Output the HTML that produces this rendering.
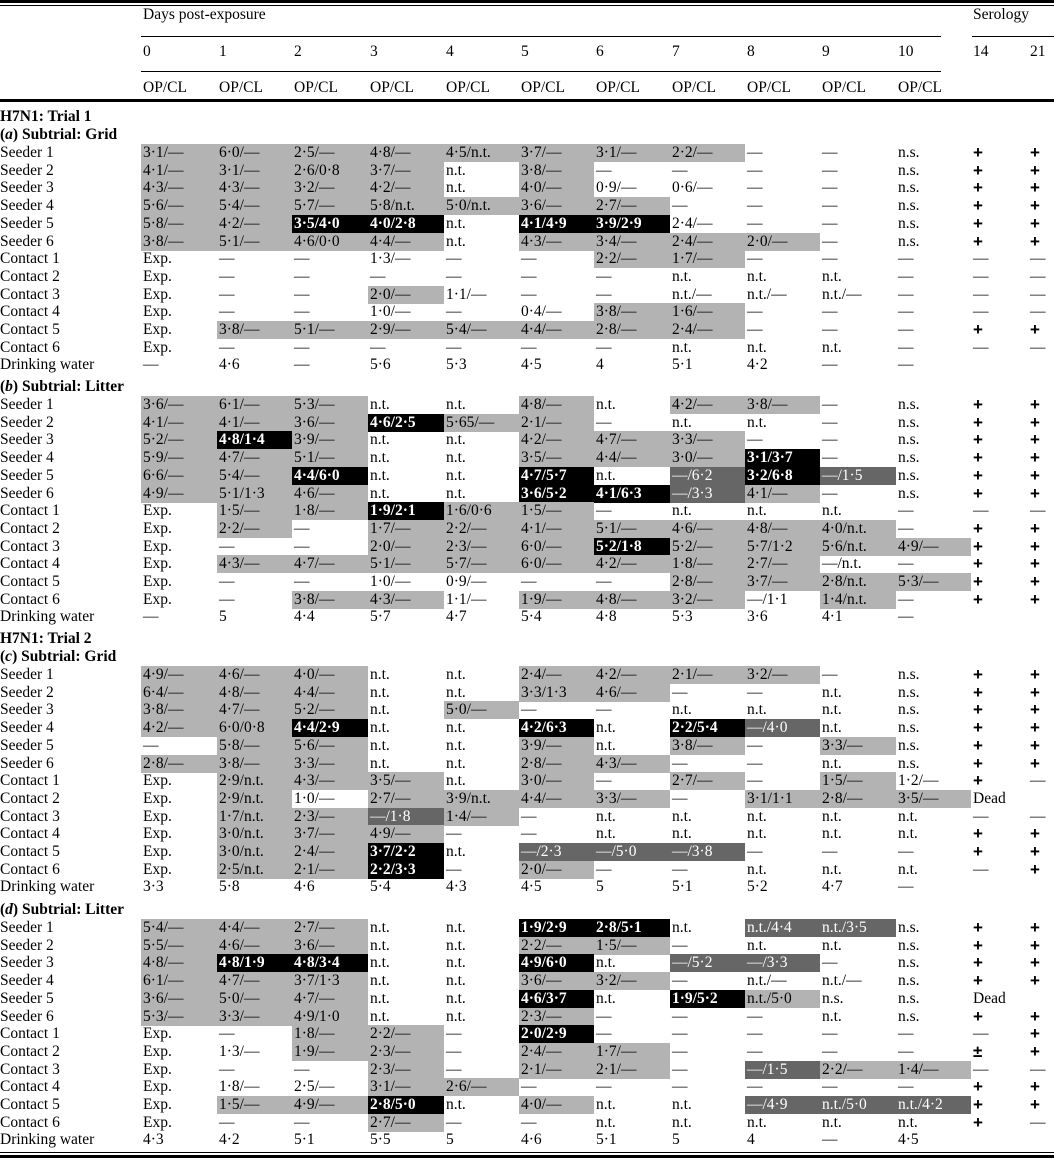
<!DOCTYPE html>
<html><head><meta charset="utf-8">
<style>
body{margin:0;width:1054px;height:1160px;background:#fff;position:relative;overflow:hidden;font-family:"Liberation Serif",serif;font-size:15.5px;color:#000}
.t{position:absolute;white-space:nowrap;line-height:18px;height:18px}
.bx{position:absolute;height:18px}
.ln{position:absolute;background:#000}
.b{font-weight:bold}
.pl{font-weight:bold;font-size:17px;font-family:"Liberation Sans",sans-serif}
</style></head><body>
<div id="root"></div>
<script>
const cols=[143,219,294,370,446,521,596,672,747,822,898,973,1030];
const dayLabels=["0","1","2","3","4","5","6","7","8","9","10"];
const serLabels=["14","21"];
const secA=[
["Seeder 1","g3·1/–|g6·0/–|g2·5/–|g4·8/–|g4·5/n.t.|g3·7/–|g3·1/–|g2·2/–|–|–|n.s.|+|+"],
["Seeder 2","g4·1/–|g3·1/–|g2·6/0·8|g3·7/–|n.t.|g3·8/–|–|–|–|–|n.s.|+|+"],
["Seeder 3","g4·3/–|g4·3/–|g3·2/–|g4·2/–|n.t.|g4·0/–|0·9/–|0·6/–|–|–|n.s.|+|+"],
["Seeder 4","g5·6/–|g5·4/–|g5·7/–|g5·8/n.t.|g5·0/n.t.|g3·6/–|g2·7/–|–|–|–|n.s.|+|+"],
["Seeder 5","g5·8/–|g4·2/–|k3·5/4·0|k4·0/2·8|n.t.|k4·1/4·9|k3·9/2·9|2·4/–|–|–|n.s.|+|+"],
["Seeder 6","g3·8/–|g5·1/–|g4·6/0·0|g4·4/–|n.t.|g4·3/–|g3·4/–|g2·4/–|g2·0/–|–|n.s.|+|+"],
["Contact 1","Exp.|–|–|1·3/–|–|–|g2·2/–|g1·7/–|–|–|–|–|–"],
["Contact 2","Exp.|–|–|–|–|–|–|n.t.|n.t.|n.t.|–|–|–"],
["Contact 3","Exp.|–|–|g2·0/–|1·1/–|–|–|n.t./–|n.t./–|n.t./–|–|–|–"],
["Contact 4","Exp.|–|–|1·0/–|–|0·4/–|g3·8/–|g1·6/–|–|–|–|–|–"],
["Contact 5","Exp.|g3·8/–|g5·1/–|g2·9/–|g5·4/–|g4·4/–|g2·8/–|g2·4/–|–|–|–|+|+"],
["Contact 6","Exp.|–|–|–|–|–|–|n.t.|n.t.|n.t.|–|–|–"],
["Drinking water","–|4·6|–|5·6|5·3|4·5|4|5·1|4·2|–|–||"]];
const secB=[
["Seeder 1","g3·6/–|g6·1/–|g5·3/–|n.t.|n.t.|g4·8/–|n.t.|g4·2/–|g3·8/–|–|n.s.|+|+"],
["Seeder 2","g4·1/–|g4·1/–|g3·6/–|k4·6/2·5|g5·65/–|g2·1/–|–|n.t.|n.t.|–|n.s.|+|+"],
["Seeder 3","g5·2/–|k4·8/1·4|g3·9/–|n.t.|n.t.|g4·2/–|g4·7/–|g3·3/–|–|–|n.s.|+|+"],
["Seeder 4","g5·9/–|g4·7/–|g5·1/–|n.t.|n.t.|g3·5/–|g4·4/–|g3·0/–|k3·1/3·7|–|n.s.|+|+"],
["Seeder 5","g6·6/–|g5·4/–|k4·4/6·0|n.t.|n.t.|k4·7/5·7|n.t.|d–/6·2|k3·2/6·8|d–/1·5|n.s.|+|+"],
["Seeder 6","g4·9/–|g5·1/1·3|g4·6/–|n.t.|n.t.|k3·6/5·2|k4·1/6·3|d–/3·3|g4·1/–|–|n.s.|+|+"],
["Contact 1","Exp.|g1·5/–|g1·8/–|k1·9/2·1|g1·6/0·6|g1·5/–|–|n.t.|n.t.|n.t.|–|–|–"],
["Contact 2","Exp.|g2·2/–|–|g1·7/–|g2·2/–|g4·1/–|g5·1/–|g4·6/–|g4·8/–|g4·0/n.t.|–|+|+"],
["Contact 3","Exp.|–|–|g2·0/–|g2·3/–|g6·0/–|k5·2/1·8|g5·2/–|g5·7/1·2|g5·6/n.t.|g4·9/–|+|+"],
["Contact 4","Exp.|g4·3/–|g4·7/–|g5·1/–|g5·7/–|g6·0/–|g4·2/–|g1·8/–|g2·7/–|–/n.t.|–|+|+"],
["Contact 5","Exp.|–|–|1·0/–|0·9/–|–|–|g2·8/–|g3·7/–|g2·8/n.t.|g5·3/–|+|+"],
["Contact 6","Exp.|–|g3·8/–|g4·3/–|1·1/–|g1·9/–|g4·8/–|g3·2/–|–/1·1|g1·4/n.t.|–|+|+"],
["Drinking water","–|5|4·4|5·7|4·7|5·4|4·8|5·3|3·6|4·1|–||"]];
const secC=[
["Seeder 1","g4·9/–|g4·6/–|g4·0/–|n.t.|n.t.|g2·4/–|g4·2/–|g2·1/–|g3·2/–|–|n.s.|+|+"],
["Seeder 2","g6·4/–|g4·8/–|g4·4/–|n.t.|n.t.|g3·3/1·3|g4·6/–|–|–|n.t.|n.s.|+|+"],
["Seeder 3","g3·8/–|g4·7/–|g5·2/–|n.t.|g5·0/–|–|–|n.t.|n.t.|n.t.|n.s.|+|+"],
["Seeder 4","g4·2/–|g6·0/0·8|k4·4/2·9|n.t.|n.t.|k4·2/6·3|n.t.|k2·2/5·4|d–/4·0|n.t.|n.s.|+|+"],
["Seeder 5","–|g5·8/–|g5·6/–|n.t.|n.t.|g3·9/–|n.t.|g3·8/–|–|g3·3/–|n.s.|+|+"],
["Seeder 6","g2·8/–|g3·8/–|g3·3/–|n.t.|n.t.|g2·8/–|g4·3/–|–|–|n.t.|n.s.|+|+"],
["Contact 1","Exp.|g2·9/n.t.|g4·3/–|g3·5/–|n.t.|g3·0/–|–|g2·7/–|–|g1·5/–|1·2/–|+|–"],
["Contact 2","Exp.|g2·9/n.t.|1·0/–|g2·7/–|g3·9/n.t.|g4·4/–|g3·3/–|–|g3·1/1·1|g2·8/–|g3·5/–|Dead|"],
["Contact 3","Exp.|g1·7/n.t.|g2·3/–|d–/1·8|g1·4/–|–|n.t.|n.t.|n.t.|n.t.|n.t.|–|–"],
["Contact 4","Exp.|g3·0/n.t.|g3·7/–|g4·9/–|–|–|n.t.|n.t.|n.t.|n.t.|n.t.|+|+"],
["Contact 5","Exp.|g3·0/n.t.|g2·4/–|k3·7/2·2|n.t.|d–/2·3|d–/5·0|d–/3·8|–|–|–|+|+"],
["Contact 6","Exp.|g2·5/n.t.|g2·1/–|k2·2/3·3|–|g2·0/–|–|–|n.t.|n.t.|n.t.|–|+"],
["Drinking water","3·3|5·8|4·6|5·4|4·3|4·5|5|5·1|5·2|4·7|–||"]];
const secD=[
["Seeder 1","g5·4/–|g4·4/–|g2·7/–|n.t.|n.t.|k1·9/2·9|k2·8/5·1|n.t.|dn.t./4·4|dn.t./3·5|n.s.|+|+"],
["Seeder 2","g5·5/–|g4·6/–|g3·6/–|n.t.|n.t.|g2·2/–|g1·5/–|–|n.t.|n.t.|n.s.|+|+"],
["Seeder 3","g4·8/–|k4·8/1·9|k4·8/3·4|n.t.|n.t.|k4·9/6·0|n.t.|d–/5·2|d–/3·3|–|n.s.|+|+"],
["Seeder 4","g6·1/–|g4·7/–|g3·7/1·3|n.t.|n.t.|g3·6/–|g3·2/–|–|n.t./–|n.t./–|n.s.|+|+"],
["Seeder 5","g3·6/–|g5·0/–|g4·7/–|n.t.|n.t.|k4·6/3·7|n.t.|k1·9/5·2|gn.t./5·0|n.s.|n.s.|Dead|"],
["Seeder 6","g5·3/–|g3·3/–|g4·9/1·0|n.t.|n.t.|g2·3/–|–|–|–|n.t.|n.s.|+|+"],
["Contact 1","Exp.|–|g1·8/–|g2·2/–|–|k2·0/2·9|–|–|–|–|–|–|+"],
["Contact 2","Exp.|1·3/–|g1·9/–|g2·3/–|–|g2·4/–|g1·7/–|–|–|–|–|±|+"],
["Contact 3","Exp.|–|–|g2·3/–|–|g2·1/–|g2·1/–|–|d–/1·5|g2·2/–|g1·4/–|–|–"],
["Contact 4","Exp.|1·8/–|2·5/–|g3·1/–|g2·6/–|–|–|–|–|–|–|+|+"],
["Contact 5","Exp.|g1·5/–|g4·9/–|k2·8/5·0|n.t.|g4·0/–|n.t.|n.t.|d–/4·9|dn.t./5·0|dn.t./4·2|+|+"],
["Contact 6","Exp.|–|–|g2·7/–|–|–|n.t.|n.t.|n.t.|n.t.|n.t.|+|–"],
["Drinking water","4·3|4·2|5·1|5·5|5|4·6|5·1|5|4|–|4·5||"]];

const root=document.getElementById('root');
function line(x,y,w,h,name){const d=document.createElement('div');d.className='ln';
d.style.cssText=`left:${x}px;top:${y}px;width:${w}px;height:${h}px`;


root.appendChild(d);}
function txt(x,cy,s,cls,name){const d=document.createElement('div');d.className='t '+(cls||'');
d.style.left=x+'px';d.style.top=(cy-9)+'px';d.innerHTML=s;


root.appendChild(d);return d;}
line(0,0,1054,3,'top-rule');line(0,5,1054,1,'top-rule-thin');
txt(143,15,'Days post-exposure','','days-header');
txt(973,15,'Serology','','serology-header');
line(141,36,800,1,'days-rule');line(972,36,82,1,'serology-rule');
dayLabels.forEach((l,i)=>{txt(cols[i],52,l,'','day-label');txt(cols[i],88,'OP/CL','','op-cl-label');});
serLabels.forEach((l,i)=>txt(cols[11+i],52,l,'','serology-day-label'));
line(141,71,800,1,'day-rule');
line(0,99,1054,3,'header-bottom-rule');
line(0,1152,1054,1,'bottom-rule-thin');line(0,1155,1054,3,'bottom-rule');

function section(title,trial,ty,rows,y0,step){
  if(trial)txt(0,ty-18,trial,'b','trial-header');
  txt(0,ty,title,'b','subtrial-header');
  rows.forEach((r,k)=>{
    const cy=y0+k*step;
    txt(0,cy,r[0],'','row-label');
    r[1].split('|').forEach((c,i)=>{
      let s=c,bg=null;
      if(c[0]==='g'||c[0]==='k'||c[0]==='d'){bg={g:'#b3b3b3',k:'#000',d:'#666'}[c[0]];s=c.slice(1);}
      if(bg){const b=document.createElement('div');b.className='bx';
        const x0=cols[i]-2,x1=(i<12?cols[i+1]-2:1054);
        b.style.cssText=`left:${x0}px;top:${cy-9}px;width:${x1-x0}px;background:${bg}`;
        
        
        root.appendChild(b);}
      if(s){s=s.replace(/–/g,'—');
        const d=txt(cols[i],cy,s,(s==='+'||s==='±')?'pl':'','cell-value');
        if(bg==='#000'||bg==='#666'){d.style.color='#fff';}
        if(bg==='#000')d.style.fontWeight='bold';}
    });
  });
}
section('(<i>a</i>) Subtrial: Grid','H7N1: Trial 1',135,secA,153,17.7);
section('(<i>b</i>) Subtrial: Litter',null,387,secB,405,17.7);
section('(<i>c</i>) Subtrial: Grid','H7N1: Trial 2',657,secC,675,17.7);
section('(<i>d</i>) Subtrial: Litter',null,910,secD,928,17.7);
</script>
</body></html>
